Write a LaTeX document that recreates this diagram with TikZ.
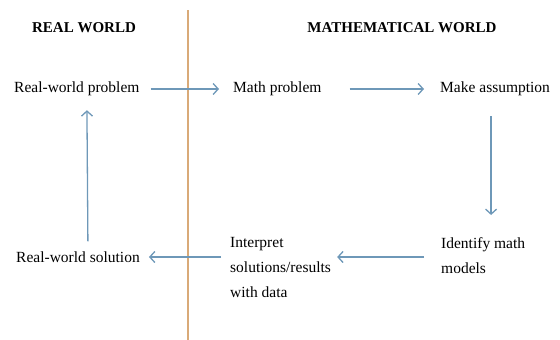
\documentclass[tikz,border=0pt]{standalone}
\usepackage{fontspec}
\setmainfont{Liberation Serif}
\usetikzlibrary{arrows.meta, calc}

\begin{document}
\begin{tikzpicture}[x=1pt, y=-1pt,
  txt/.style={inner sep=0pt, anchor=west, font=\fontsize{15.5}{25}\selectfont},
  head/.style={inner sep=0pt, font=\fontsize{15}{18}\selectfont\bfseries},
  flow/.style={draw=seta, line width=1.3pt, -{Straight Barb[length=5pt, width=11pt]}}]
% --- CORES E MOLDURA ---
\definecolor{seta}{HTML}{6E98B8}
\definecolor{divisa}{HTML}{D9AA78}
\useasboundingbox (0,0) rectangle (560,340);

% LAYER 1: Divisa entre os dois mundos
\coordinate (topo) at (188,10);
\coordinate (base) at (188,340);
\draw[divisa, line width=1.6pt] (topo) -- (base);

% LAYER 2: Titulos
\node[head] (realw) at (84,28) {REAL WORLD};
\node[head] (mathw) at (402,28) {MATHEMATICAL WORLD};

% LAYER 3: Caixas de texto
\node[txt] (rwp) at (14,89) {Real-world problem};
\node[txt] (mp) at (233,89) {Math problem};
\node[txt] (ma) at (440,89) {Make assumption};
\node[txt, anchor=north west, align=left] (imm) at (441,237) {Identify math\\models};
\node[txt, anchor=north west, align=left] (interp) at (230,237) {Interpret\\solutions/results\\with data};
\node[txt] (rws) at (16,257) {Real-world solution};

% LAYER 4: Setas do ciclo
\draw[flow, shorten <=11pt, shorten >=14pt] (rwp.east) -- (mp.west);
\draw[flow, shorten <=28pt, shorten >=16pt] (mp.east) -- (ma.west);
\draw[flow, shorten <=20pt, shorten >=22pt] ([xshift=-4pt]ma.south) -- ([xshift=-4pt]ma.south |- imm.north);
\draw[flow, shorten <=17pt, shorten >=6pt] (imm.west |- rws.east) -- (interp.east |- rws.east);
\draw[flow, shorten <=9pt, shorten >=9pt] (interp.west |- rws.east) -- (rws.east);
\draw[flow, shorten <=10pt, shorten >=14pt] ([xshift=10pt]rws.north) -- ([xshift=10pt]rwp.south);
\end{tikzpicture}
\end{document}
